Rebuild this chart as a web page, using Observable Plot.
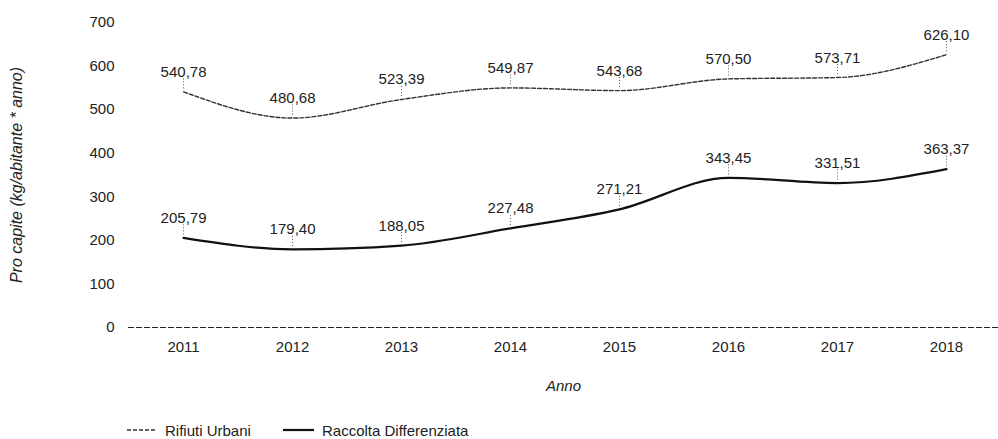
<!DOCTYPE html>
<html>
<head>
<meta charset="utf-8">
<script src="https://cdn.jsdelivr.net/npm/d3@7"></script>
<script src="https://cdn.jsdelivr.net/npm/@observablehq/plot@0.6"></script>
<style>
  html, body { margin: 0; padding: 0; background: #fff; }
  body { font-family: "Liberation Sans", Arial, sans-serif; width: 998px; height: 439px; position: relative; overflow: hidden; }
  #chart svg { display: block; }
  .leg { position: absolute; top: 421px; height: 18px; display: flex; align-items: center; font-size: 15px; color: #222; white-space: nowrap; }
  .leg svg { display: block; margin-right: 8px; }
</style>
</head>
<body>
<div id="chart"></div>
<div class="leg" style="left:127px"><svg width="30" height="6"><line x1="0" x2="30" y1="3" y2="3" stroke="#333" stroke-width="1.4" stroke-dasharray="4,2"/></svg><span id="leg1"></span></div>
<div class="leg" style="left:283px"><svg width="31" height="6"><line x1="0" x2="31" y1="3" y2="3" stroke="#111" stroke-width="2.2"/></svg><span id="leg2"></span></div>
<script>
const years = [2011, 2012, 2013, 2014, 2015, 2016, 2017, 2018];
const rifiutiUrbani = [540.78, 480.68, 523.39, 549.87, 543.68, 570.50, 573.71, 626.10];
const raccoltaDifferenziata = [205.79, 179.40, 188.05, 227.48, 271.21, 343.45, 331.51, 363.37];
const seriesNames = ["Rifiuti Urbani", "Raccolta Differenziata"];
const yTicks = [0, 100, 200, 300, 400, 500, 600, 700];
const xLabel = "Anno";
const yLabel = "Pro capite (kg/abitante * anno)";

const urbani = years.map((y, i) => ({year: y, value: rifiutiUrbani[i], series: seriesNames[0]}));
const raccolta = years.map((y, i) => ({year: y, value: raccoltaDifferenziata[i], series: seriesNames[1]}));
const all = urbani.concat(raccolta);
const fmt = v => d3.format(".2f")(v).replace(".", ",");

const chart = Plot.plot({
  width: 998,
  height: 421,
  marginLeft: 128,
  marginRight: 0,
  marginTop: 22,
  marginBottom: 94,
  style: {fontFamily: "'Liberation Sans', Arial, sans-serif", fontSize: "15px", color: "#222", background: "#fff", overflow: "visible"},
  x: {domain: [2010.495, 2018.477], ticks: years, tickFormat: d3.format("d"), tickSize: 0, tickPadding: 14, label: null},
  y: {domain: [0, 700], ticks: yTicks, tickSize: 0, tickPadding: 14, label: null},
  marks: [
    Plot.ruleY([0], {stroke: "#222", strokeWidth: 1.2, strokeDasharray: "6,2"}),
    Plot.line(urbani, {x: "year", y: "value", curve: "monotone-x", stroke: "#333", strokeWidth: 1.4, strokeDasharray: "4,2"}),
    Plot.line(raccolta, {x: "year", y: "value", curve: "monotone-x", stroke: "#111", strokeWidth: 2.2}),
    Plot.ruleX(all, {x: "year", y1: "value", y2: "value", insetTop: -13, insetBottom: 3, stroke: "#555", strokeWidth: 1, strokeDasharray: "1,2"}),
    Plot.text(all, {x: "year", y: "value", text: d => fmt(d.value), lineAnchor: "bottom", dy: -15, fill: "#222"}),
    Plot.text([xLabel], {frameAnchor: "bottom", text: d => d, dy: 63, fontStyle: "italic", fill: "#222"}),
    Plot.text([yLabel], {frameAnchor: "left", text: d => d, textAnchor: "middle", rotate: -90, dx: -112, fontStyle: "italic", fontSize: 16, fill: "#222"})
  ]
});
document.getElementById("chart").appendChild(chart);
document.getElementById("leg1").textContent = seriesNames[0];
document.getElementById("leg2").textContent = seriesNames[1];
</script>
</body>
</html>
